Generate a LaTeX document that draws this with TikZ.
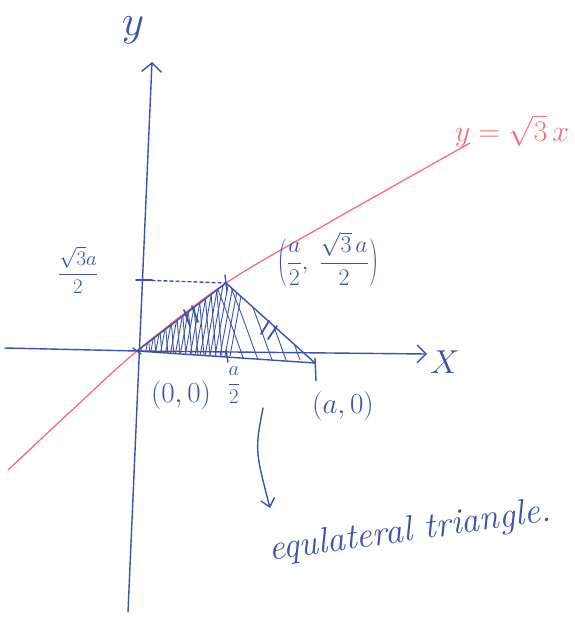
\documentclass[tikz,border=0pt]{standalone}
\usetikzlibrary{arrows.meta,calc}
\definecolor{ink}{RGB}{62,82,170}
\definecolor{redink}{RGB}{242,112,124}
\begin{document}
\begin{tikzpicture}[x=1pt,y=-1pt,
  inkline/.style={draw=ink, line width=1.4pt, line cap=round, line join=round},
  hatch/.style={draw=ink, line width=0.9pt, line cap=round},
  lbl/.style={text=ink, inner sep=0pt, font=\fontsize{20}{24}\selectfont},
  redlbl/.style={text=redink, inner sep=0pt, font=\fontsize{20}{24}\selectfont}]
\useasboundingbox (0,0) rectangle (574,622);
% key points
\coordinate (O) at (137,351);
\coordinate (A) at (226,283);
\coordinate (B) at (315,363);
\coordinate (Ybot) at (128,612);
\coordinate (Ytop) at (152,62);
\coordinate (Xl) at (5,348);
\coordinate (Xr) at (427,354);
\coordinate (Ytick) at (140,280);
\coordinate (Rl) at (8,470);
\coordinate (Rr) at (470,143);
% red line y = sqrt3 x
\draw[redink, line width=1.3pt] plot[smooth] coordinates {(Rl) (70,412) (O) (A) (330,222) (Rr)};
% hatching inside triangle
\begin{scope}
\clip (O) -- (A) -- (B) -- cycle;
\foreach \x in {140,145,...,230} {\draw[hatch] (\x,356) -- (\x+14,280);}
\foreach \x in {150,156,...,226} {\draw[hatch] (\x,356) -- (\x-6,280);}
\foreach \x in {226,240,...,310} {\draw[hatch] (\x-10,285) .. controls (\x,310) .. (\x+18,360);}
\end{scope}
% axes
\draw[inkline, -{Straight Barb[length=9pt,width=20pt,line width=1.4pt]}] (Ybot) -- (Ytop);
\draw[inkline, -{Straight Barb[length=9pt,width=18pt,line width=1.4pt]}] (Xl) -- (O) -- (Xr);
% triangle
\draw[inkline] (O) -- (A) -- (B);
\draw[inkline] (O) -- (B);
% dashed projection
\draw[inkline, dashed] (Ytick) -- (A);
\draw[inkline] ($(Ytick)+(-4,0)$) -- ($(Ytick)+(12,0)$);
% tick marks
\draw[inkline] ($(A)+(-1,-8)$) -- ($(A)+(1,8)$);
\draw[inkline] (226,350) -- (228,362);
\draw[inkline] (315,358) -- (316,381);
\draw[inkline] (O) ++(-4,-3) -- ++(8,6);
\draw[inkline, line width=1.8pt] (184,310) -- (190,326);
\draw[inkline, line width=1.8pt] (192,306) -- (198,322);
\draw[inkline, line width=1.8pt] (261,334) -- (269,321);
\draw[inkline, line width=1.8pt] (268,339) -- (277,326);
% curved arrow to caption
\coordinate (Cs) at (263,408);
\coordinate (Ce) at (270,508);
\draw[inkline, -{Straight Barb[length=8pt,width=14pt,line width=1.4pt]}] (Cs) .. controls (255,450) .. (Ce);
% labels
\node[lbl] (ylab) at (133,30) {\scalebox{2.1}{$y$}};
\node[lbl] (xlab) at (445,362) {\scalebox{1.6}{$X$}};
\node[redlbl] (eq) at (512,131) {\scalebox{1.45}{$y=\sqrt{3}\,x$}};
\node[lbl] (h) at (78,270) {$\displaystyle\frac{\sqrt{3}a}{2}$};
\node[lbl] (Alab) at (328,259) {\scalebox{1.15}{\raisebox{-0.55ex}{\scalebox{1.1}[2.0]{$($}}$\displaystyle\frac{a}{2},\ \frac{\sqrt{3}\,a}{2}$\raisebox{-0.55ex}{\scalebox{1.1}[2.0]{$)$}}}};
\node[lbl] (Olab) at (181,395) {\scalebox{1.4}{$(0,0)$}};
\node[lbl] (half) at (234,385) {$\displaystyle\frac{a}{2}$};
\node[lbl] (Blab) at (343,406) {\scalebox{1.4}{$(a,0)$}};
\node[lbl, font=\itshape\fontsize{36}{40}\selectfont, rotate=8] (cap) at (410,532) {equlateral triangle.};
\end{tikzpicture}
\end{document}
